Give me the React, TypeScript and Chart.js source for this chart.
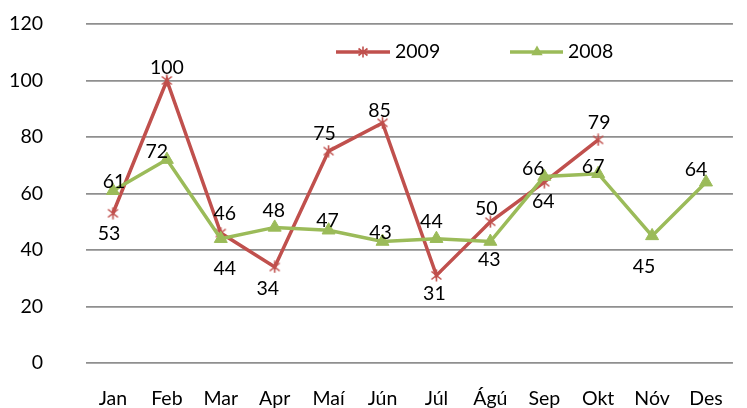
import React, { useEffect, useRef } from "react";
import { Chart, registerables } from "chart.js";

Chart.register(...registerables);

const MONTHS = ["Jan", "Feb", "Mar", "Apr", "Maí", "Jún", "Júl", "Ágú", "Sep", "Okt", "Nóv", "Des"];
const SERIES_2009 = [53, 100, 46, 34, 75, 85, 31, 50, 64, 79, null, null];
const SERIES_2008 = [61, 72, 44, 48, 47, 43, 44, 43, 66, 67, 45, 64];
const Y_TICKS = [0, 20, 40, 60, 80, 100, 120];

// label nudges relative to each point (dx, dy in px)
const LABEL_NUDGE_2009: ([number, number] | null)[] = [
  [-4, 20], [0, -13], [4, -19], [-7, 22], [-4, -17], [-3, -12], [-2, 18], [-4, -13], [-1, 20], [1, -17], null, null,
];
const LABEL_NUDGE_2008: ([number, number] | null)[] = [
  [1, -9], [-10, -8], [4, 30], [-1, -17], [-1, -10], [-2, -9], [-5, -17], [-1, 18], [-11, -8], [-5, -7], [-8, 31], [-10, -12],
];

const RED = "#C0504D";
const GREEN = "#9BBB59";
const FONT = "Lato, 'Open Sans', sans-serif";
const FS = 19.5;

function makeStar(color: string, size: number): HTMLCanvasElement {
  const c = document.createElement("canvas");
  c.width = size;
  c.height = size;
  const ctx = c.getContext("2d")!;
  ctx.strokeStyle = color;
  ctx.lineWidth = 1.6;
  const m = 1.5;
  ctx.beginPath();
  ctx.moveTo(m, m + 1);
  ctx.lineTo(size - m, size - m - 1);
  ctx.moveTo(size - m, m + 1);
  ctx.lineTo(m, size - m - 1);
  ctx.moveTo(size / 2, 0.5);
  ctx.lineTo(size / 2, size - 0.5);
  ctx.stroke();
  return c;
}

const labelPlugin = {
  id: "valueLabels",
  afterDatasetsDraw(chart: any) {
    const ctx = chart.ctx;
    ctx.save();
    ctx.font = `${FS}px ${FONT}`;
    ctx.fillStyle = "#000";
    ctx.textAlign = "center";
    ctx.textBaseline = "middle";
    chart.data.datasets.forEach((ds: any, di: number) => {
      const meta = chart.getDatasetMeta(di);
      const nudges = ds.label === "2009" ? LABEL_NUDGE_2009 : LABEL_NUDGE_2008;
      meta.data.forEach((pt: any, i: number) => {
        const v = ds.data[i];
        const n = nudges[i];
        if (v == null || !n) return;
        ctx.fillText(String(v), pt.x + n[0], pt.y + n[1]);
      });
    });
    ctx.restore();
  },
};

const legendPlugin = {
  id: "insideLegend",
  afterDraw(chart: any) {
    const ctx = chart.ctx;
    const y = 52;
    ctx.save();
    ctx.strokeStyle = RED;
    ctx.lineWidth = 3.5;
    ctx.beginPath();
    ctx.moveTo(336, y);
    ctx.lineTo(390, y);
    ctx.stroke();
    const star = makeStar(RED, 12);
    ctx.drawImage(star, 363 - 6, y - 6);
    ctx.strokeStyle = GREEN;
    ctx.beginPath();
    ctx.moveTo(510, y);
    ctx.lineTo(563, y);
    ctx.stroke();
    ctx.fillStyle = GREEN;
    const r = 6.5;
    ctx.beginPath();
    ctx.moveTo(537, y - r);
    ctx.lineTo(537 + r * 0.866, y + r * 0.5);
    ctx.lineTo(537 - r * 0.866, y + r * 0.5);
    ctx.closePath();
    ctx.fill();
    ctx.fillStyle = "#000";
    ctx.font = `${FS}px ${FONT}`;
    ctx.textAlign = "left";
    ctx.textBaseline = "middle";
    ctx.fillText("2009", 395, y);
    ctx.fillText("2008", 568, y);
    ctx.restore();
  },
};

export default function App() {
  const ref = useRef<HTMLCanvasElement | null>(null);
  useEffect(() => {
    if (!ref.current) return;
    const star = makeStar(RED, 13);
    const chart = new Chart(ref.current, {
      type: "line",
      data: {
        labels: MONTHS,
        datasets: [
          {
            label: "2009",
            data: SERIES_2009,
            borderColor: RED,
            backgroundColor: RED,
            borderWidth: 3.5,
            pointStyle: star as any,
            pointRadius: 6,
            order: 2,
            spanGaps: false,
          },
          {
            label: "2008",
            data: SERIES_2008,
            borderColor: GREEN,
            backgroundColor: GREEN,
            borderWidth: 3.5,
            pointStyle: "triangle",
            pointRadius: 7.5,
            pointBorderWidth: 1,
            order: 1,
          },
        ],
      },
      options: {
        responsive: false,
        animation: false,
        devicePixelRatio: 1,
        layout: { autoPadding: false, padding: { top: 24, right: 7, left: 0, bottom: 0 } },
        plugins: {
          legend: { display: false },
          tooltip: { enabled: false },
        },
        scales: {
          x: {
            type: "category",
            offset: true,
            grid: { display: false, drawTicks: false },
            border: { display: false },
            ticks: { font: { family: FONT, size: FS }, color: "#000", padding: 24, maxRotation: 0 },
            afterFit(scale: any) {
              scale.height = 45;
            },
          },
          y: {
            min: 0,
            max: 120,
            afterBuildTicks(scale: any) {
              scale.ticks = Y_TICKS.map((v) => ({ value: v }));
            },
            grid: { color: "#8f8f8f", lineWidth: 1.8, drawTicks: false },
            border: { display: false },
            ticks: { font: { family: FONT, size: FS }, color: "#000", padding: 43 },
            afterFit(scale: any) {
              scale.width = 86;
              scale.paddingTop = 0;
              scale.paddingBottom = 0;
            },
          },
        },
      },
      plugins: [labelPlugin, legendPlugin],
    });
    return () => chart.destroy();
  }, []);
  return (
    <div style={{ position: "absolute", left: 0, top: 0, width: 747, height: 408, background: "#fff" }}>
      <canvas ref={ref} width={747} height={408} style={{ width: 747, height: 408 }} />
    </div>
  );
}
